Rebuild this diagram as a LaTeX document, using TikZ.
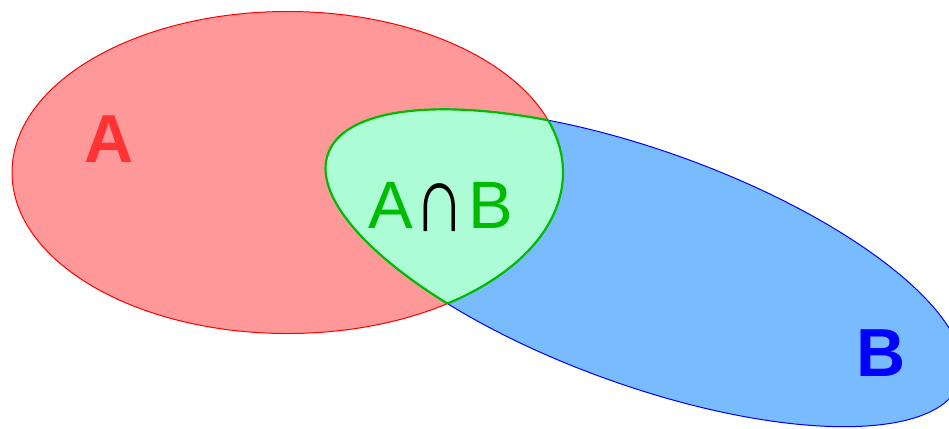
\documentclass[tikz,border=0pt]{standalone}
\usepackage{fontspec}
\setmainfont{Liberation Sans}
\definecolor{redfill}{RGB}{255,153,153}
\definecolor{redtext}{RGB}{255,51,51}
\definecolor{bluefill}{RGB}{120,187,255}
\definecolor{greenfill}{RGB}{172,252,214}
\definecolor{greenline}{RGB}{0,187,0}
\tikzset{
  setA/.style={fill=redfill, draw=red, line width=1pt},
  setB/.style={fill=bluefill, draw=blue, line width=1pt},
  label/.style={inner sep=0pt, anchor=base},
}
\begin{document}
\begin{tikzpicture}[x=1pt, y=-1pt]
\useasboundingbox (0,0) rectangle (949,428);
\clip (0,0) rectangle (949,428);
% set A
\path[setA] (287.5,172.5) ellipse [x radius=275.5pt, y radius=161pt];
% set B
\path[setB, rotate around={-19.9:(644,268)}] (644,268) ellipse [x radius=336pt, y radius=117pt];
% intersection
\begin{scope}
  \clip (287.5,172.5) ellipse [x radius=275.5pt, y radius=161pt];
  \fill[greenfill, rotate around={-19.9:(644,268)}] (644,268) ellipse [x radius=336pt, y radius=117pt];
  \draw[greenline, line width=2.2pt, rotate around={-19.9:(644,268)}] (644,268) ellipse [x radius=336pt, y radius=117pt];
\end{scope}
\begin{scope}
  \clip[rotate around={-19.9:(644,268)}] (644,268) ellipse [x radius=336pt, y radius=117pt];
  \draw[greenline, line width=2.2pt] (287.5,172.5) ellipse [x radius=275.5pt, y radius=161pt];
\end{scope}
% labels
\node[label, text=redtext, font=\fontsize{68}{68}\selectfont\bfseries] (la) at (109,162) {A};
\node[label, text=blue, font=\fontsize{68}{68}\selectfont\bfseries] (lb) at (881.5,376) {B};
\node[label, font=\fontsize{67}{67}\selectfont] (lab) at (440.5,228) {\textcolor{greenline}{A}\hspace{2pt}\textcolor{black}{\raisebox{-3pt}{\scalebox{1.05}[1.42]{∩}}}\hspace{3pt}\textcolor{greenline}{B}};
\end{tikzpicture}
\end{document}
